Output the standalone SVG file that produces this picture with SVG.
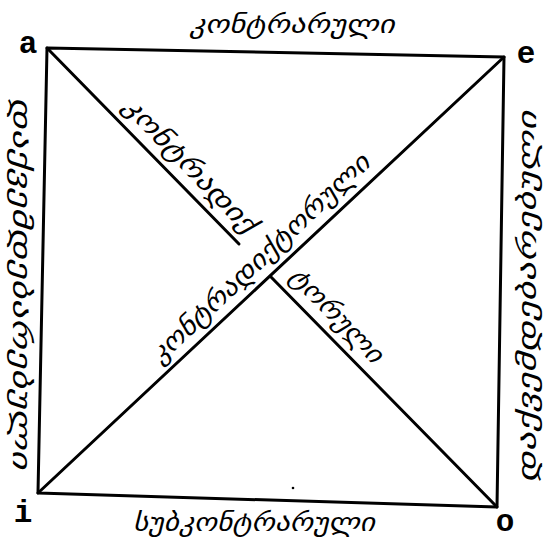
<svg xmlns="http://www.w3.org/2000/svg" width="544" height="542" viewBox="0 0 544 542">
<style>
.ln{stroke:#000;stroke-width:3;fill:none;stroke-linecap:round;stroke-linejoin:round}
.g{font-family:"DejaVu Sans",sans-serif;font-size:26px;font-style:italic;fill:#000;text-anchor:middle}
.lb{font-family:"Liberation Mono",monospace;font-size:31px;font-weight:bold;fill:#000;text-anchor:middle}
</style>
<rect width="544" height="542" fill="#fff"/>
<g id="connectors">
<path class="ln" d="M47,48 L504,57 L497,507 L38,493 Z"/>
<path class="ln" d="M47,48 L239,244"/>
<path class="ln" d="M271,277 L497,507"/>
<path class="ln" d="M504,57 L38,493"/>
<circle cx="293" cy="488" r="1.3" fill="#000"/>
</g>
<g id="node-a"><text class="lb" x="28" y="53">a</text></g>
<g id="node-e"><text class="lb" x="526" y="63">e</text></g>
<g id="node-i"><text class="lb" x="23" y="522">i</text></g>
<g id="node-o"><text class="lb" x="505" y="531">o</text></g>
<g id="label-top"><text class="g" transform="translate(292,24)" y="9" textLength="205" lengthAdjust="spacingAndGlyphs">კონტრარული</text></g>
<g id="label-bottom"><text class="g" transform="translate(254,522)" y="9" textLength="242" lengthAdjust="spacingAndGlyphs">სუბკონტრარული</text></g>
<g id="label-left"><text class="g" transform="translate(22,283) rotate(90)" y="9" textLength="372" lengthAdjust="spacingAndGlyphs">დაქვემდებარებული</text></g>
<g id="label-right"><text class="g" transform="translate(527,297) rotate(-90)" y="9" textLength="372" lengthAdjust="spacingAndGlyphs">დაქვემდებარებული</text></g>
<g id="label-ao-1"><text class="g" transform="translate(190,165) rotate(45.7)" y="9" textLength="178" lengthAdjust="spacingAndGlyphs">კონტრადიქ</text></g>
<g id="label-ao-2"><text class="g" transform="translate(337,315) rotate(45.7)" y="9" textLength="122" lengthAdjust="spacingAndGlyphs">ტორული</text></g>
<g id="label-ei"><text class="g" transform="translate(260,258) rotate(-43.4)" y="9" textLength="291" lengthAdjust="spacingAndGlyphs">კონტრადიქტორული</text></g>
</svg>
